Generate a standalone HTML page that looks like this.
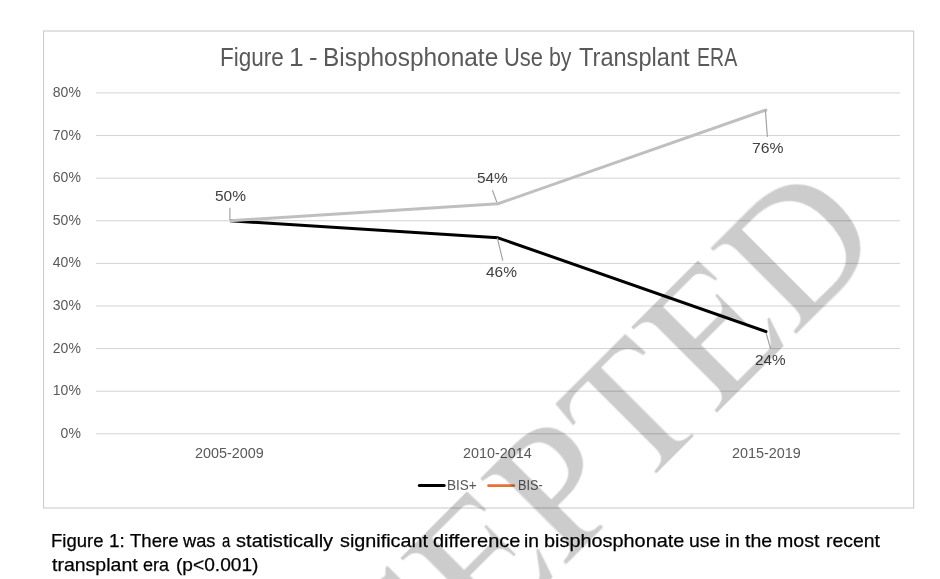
<!DOCTYPE html>
<html lang="en">
<head>
<meta charset="utf-8">
<title>Figure 1 - Bisphosphonate Use by Transplant ERA</title>
<style>
html,body{margin:0;padding:0;background:#fff}
body{width:940px;height:579px;position:relative;overflow:hidden;font-family:"Liberation Sans", sans-serif}
svg{position:absolute;left:0;top:0;display:block}
#txt span{position:absolute;white-space:pre;transform-origin:0 50%;font-family:"Liberation Sans", sans-serif}
#txt{will-change:transform}
#txt .cap{-webkit-text-stroke:0.25px #000}
#wm{pointer-events:none}
</style>
</head>
<body>
<svg id="chart" width="940" height="579" viewBox="0 0 940 579">
<rect x="43.6" y="31.0" width="870.1" height="477.0" fill="none" stroke="#c6c6c6" stroke-width="1"/>
<line x1="96.0" y1="433.80" x2="900.0" y2="433.80" stroke="#d3d3d3" stroke-width="1"/>
<line x1="96.0" y1="391.19" x2="900.0" y2="391.19" stroke="#d3d3d3" stroke-width="1"/>
<line x1="96.0" y1="348.59" x2="900.0" y2="348.59" stroke="#d3d3d3" stroke-width="1"/>
<line x1="96.0" y1="305.98" x2="900.0" y2="305.98" stroke="#d3d3d3" stroke-width="1"/>
<line x1="96.0" y1="263.38" x2="900.0" y2="263.38" stroke="#d3d3d3" stroke-width="1"/>
<line x1="96.0" y1="220.77" x2="900.0" y2="220.77" stroke="#d3d3d3" stroke-width="1"/>
<line x1="96.0" y1="178.16" x2="900.0" y2="178.16" stroke="#d3d3d3" stroke-width="1"/>
<line x1="96.0" y1="135.56" x2="900.0" y2="135.56" stroke="#d3d3d3" stroke-width="1"/>
<line x1="96.0" y1="92.95" x2="900.0" y2="92.95" stroke="#d3d3d3" stroke-width="1"/>
<polyline points="230.0,220.77 498.0,237.81 766.0,331.55" fill="none" stroke="#000" stroke-width="3" stroke-linecap="butt" stroke-linejoin="round"/>
<circle cx="766.0" cy="331.55" r="1.5" fill="#000"/>
<polyline points="230.0,220.77 498.0,203.73 766.0,109.99" fill="none" stroke="#bfbfbf" stroke-width="3" stroke-linecap="butt" stroke-linejoin="round"/>
<circle cx="766.0" cy="109.99" r="1.5" fill="#bfbfbf"/>
<line x1="229.9" y1="207.8" x2="229.9" y2="220.3" stroke="#9c9c9c" stroke-width="1.1"/>
<line x1="492.4" y1="190.2" x2="497.0" y2="202.6" stroke="#9c9c9c" stroke-width="1.1"/>
<line x1="497.3" y1="237.8" x2="502.8" y2="260.7" stroke="#9c9c9c" stroke-width="1.1"/>
<line x1="765.4" y1="110.5" x2="767.4" y2="136.9" stroke="#9c9c9c" stroke-width="1.1"/>
<line x1="766.1" y1="333.0" x2="770.4" y2="348.1" stroke="#9c9c9c" stroke-width="1.1"/>
<line x1="419.3" y1="485.6" x2="444.2" y2="485.6" stroke="#000" stroke-width="3" stroke-linecap="round"/>
<line x1="488.5" y1="485.6" x2="513.8" y2="485.6" stroke="#e97132" stroke-width="2.6" stroke-linecap="round"/>
</svg>
<div id="txt">
<span style="left:60.61px;top:424.80px;font-size:14px;line-height:16.8px;color:#595959">0%</span>
<span style="left:52.83px;top:382.19px;font-size:14px;line-height:16.8px;color:#595959">10%</span>
<span style="left:52.83px;top:339.59px;font-size:14px;line-height:16.8px;color:#595959">20%</span>
<span style="left:52.83px;top:296.98px;font-size:14px;line-height:16.8px;color:#595959">30%</span>
<span style="left:52.83px;top:254.37px;font-size:14px;line-height:16.8px;color:#595959">40%</span>
<span style="left:52.83px;top:211.77px;font-size:14px;line-height:16.8px;color:#595959">50%</span>
<span style="left:52.83px;top:169.16px;font-size:14px;line-height:16.8px;color:#595959">60%</span>
<span style="left:52.83px;top:126.56px;font-size:14px;line-height:16.8px;color:#595959">70%</span>
<span style="left:52.83px;top:83.95px;font-size:14px;line-height:16.8px;color:#595959">80%</span>
<span style="left:195.10px;top:445.00px;font-size:14px;line-height:16.8px;color:#595959;transform:scaleX(1.0288)">2005-2009</span>
<span style="left:463.30px;top:445.00px;font-size:14px;line-height:16.8px;color:#595959;transform:scaleX(1.0288)">2010-2014</span>
<span style="left:731.55px;top:445.00px;font-size:14px;line-height:16.8px;color:#595959;transform:scaleX(1.0288)">2015-2019</span>
<span style="left:214.50px;top:187.40px;font-size:15px;line-height:18.0px;color:#404040;transform:scaleX(1.0308)">50%</span>
<span style="left:476.85px;top:169.40px;font-size:15px;line-height:18.0px;color:#404040;transform:scaleX(1.0258)">54%</span>
<span style="left:486.35px;top:263.30px;font-size:15px;line-height:18.0px;color:#404040;transform:scaleX(1.0325)">46%</span>
<span style="left:751.80px;top:139.40px;font-size:15px;line-height:18.0px;color:#404040;transform:scaleX(1.0477)">76%</span>
<span style="left:754.60px;top:351.40px;font-size:15px;line-height:18.0px;color:#404040;transform:scaleX(1.0207)">24%</span>
<span style="left:447.46px;top:477.10px;font-size:14.5px;line-height:17.4px;color:#595959;transform:scaleX(0.9351)">BIS+</span>
<span style="left:517.73px;top:477.10px;font-size:14.5px;line-height:17.4px;color:#595959;transform:scaleX(0.8732)">BIS-</span>
<span style="left:220.30px;top:42.40px;font-size:25px;line-height:30.0px;color:#595959;transform:scaleX(0.9006)">Figure</span>
<span style="left:288.85px;top:42.40px;font-size:25px;line-height:30.0px;color:#595959;transform:scaleX(1.0500)">1</span>
<span style="left:309.47px;top:42.40px;font-size:25px;line-height:30.0px;color:#595959;transform:scaleX(1.0286)">-</span>
<span style="left:322.95px;top:42.40px;font-size:25px;line-height:30.0px;color:#595959;transform:scaleX(0.9773)">Bisphosphonate</span>
<span style="left:503.62px;top:42.40px;font-size:25px;line-height:30.0px;color:#595959;transform:scaleX(0.8765)">Use</span>
<span style="left:549.05px;top:42.40px;font-size:25px;line-height:30.0px;color:#595959;transform:scaleX(0.8532)">by</span>
<span style="left:579.20px;top:42.40px;font-size:25px;line-height:30.0px;color:#595959;transform:scaleX(0.9434)">Transplant</span>
<span style="left:696.84px;top:42.40px;font-size:25px;line-height:30.0px;color:#595959;transform:scaleX(0.7822)">ERA</span>
<span class="cap" style="left:51.43px;top:529.60px;font-size:19px;line-height:22.8px;color:#000;transform:scaleX(0.9735)">Figure</span>
<span class="cap" style="left:109.10px;top:529.60px;font-size:19px;line-height:22.8px;color:#000;transform:scaleX(1.0024)">1:</span>
<span class="cap" style="left:129.60px;top:529.60px;font-size:19px;line-height:22.8px;color:#000;transform:scaleX(0.9762)">There</span>
<span class="cap" style="left:183.16px;top:529.60px;font-size:19px;line-height:22.8px;color:#000;transform:scaleX(0.9595)">was</span>
<span class="cap" style="left:221.50px;top:529.60px;font-size:19px;line-height:22.8px;color:#000;transform:scaleX(0.7818)">a</span>
<span class="cap" style="left:235.50px;top:529.60px;font-size:19px;line-height:22.8px;color:#000;transform:scaleX(1.0579)">statistically</span>
<span class="cap" style="left:339.90px;top:529.60px;font-size:19px;line-height:22.8px;color:#000;transform:scaleX(1.0421)">significant</span>
<span class="cap" style="left:432.60px;top:529.60px;font-size:19px;line-height:22.8px;color:#000;transform:scaleX(1.0517)">difference</span>
<span class="cap" style="left:524.09px;top:529.60px;font-size:19px;line-height:22.8px;color:#000;transform:scaleX(1.0135)">in</span>
<span class="cap" style="left:543.85px;top:529.60px;font-size:19px;line-height:22.8px;color:#000;transform:scaleX(1.0460)">bisphosphonate</span>
<span class="cap" style="left:688.98px;top:529.60px;font-size:19px;line-height:22.8px;color:#000;transform:scaleX(1.0218)">use</span>
<span class="cap" style="left:725.09px;top:529.60px;font-size:19px;line-height:22.8px;color:#000;transform:scaleX(1.0135)">in</span>
<span class="cap" style="left:745.20px;top:529.60px;font-size:19px;line-height:22.8px;color:#000;transform:scaleX(1.0253)">the</span>
<span class="cap" style="left:777.07px;top:529.60px;font-size:19px;line-height:22.8px;color:#000;transform:scaleX(1.0295)">most</span>
<span class="cap" style="left:825.58px;top:529.60px;font-size:19px;line-height:22.8px;color:#000;transform:scaleX(1.0204)">recent</span>
<span class="cap" style="left:52.40px;top:553.60px;font-size:19px;line-height:22.8px;color:#000;transform:scaleX(1.0266)">transplant</span>
<span class="cap" style="left:143.00px;top:553.60px;font-size:19px;line-height:22.8px;color:#000;transform:scaleX(0.9500)">era</span>
<span class="cap" style="left:175.79px;top:553.60px;font-size:19px;line-height:22.8px;color:#000;transform:scaleX(1.0070)">(p&lt;0.001)</span>
</div>
<svg id="wm" width="940" height="579" viewBox="0 0 940 579">
<g opacity="0.2" fill="#000" transform="translate(551.95 577.65) rotate(-45.0) scale(0.089697 -0.089697) translate(-5291.0 0)">
<path transform="translate(0 0)" d="M461 53V0H20V53L172 80L629 1352H819L1294 80L1464 53V0H897V53L1077 80L944 467H416L281 80ZM676 1208 446 557H913Z" stroke="#000" stroke-width="11.15"/>
<path transform="translate(1479 0)" d="M774 -20Q448 -20 266 157.5Q84 335 84 655Q84 1001 259 1178.5Q434 1356 778 1356Q975 1356 1150 1322L1214 1384L1236 1384L1233 1012H1167L1137 1186Q1067 1229 974.5 1252.5Q882 1276 786 1276Q529 1276 411 1125Q293 974 293 657Q293 365 416.5 211Q540 57 776 57Q890 57 991 84.5Q1092 112 1151 158L1188 358H1253L1247 43Q1027 -20 774 -20Z" stroke="#000" stroke-width="11.15"/>
<path transform="translate(2845 0)" d="M774 -20Q448 -20 266 157.5Q84 335 84 655Q84 1001 259 1178.5Q434 1356 778 1356Q975 1356 1150 1322L1214 1384L1236 1384L1233 1012H1167L1137 1186Q1067 1229 974.5 1252.5Q882 1276 786 1276Q529 1276 411 1125Q293 974 293 657Q293 365 416.5 211Q540 57 776 57Q890 57 991 84.5Q1092 112 1151 158L1188 358H1253L1247 43Q1027 -20 774 -20Z" stroke="#000" stroke-width="11.15"/>
<path transform="translate(4211 0)" d="M40 0L40 36L120 46Q238 62 243 190L243 1160Q238 1288 120 1304L40 1314L40 1350L1090 1350L1098 1054L1069 1054Q1040 1255 930 1262L449 1262L449 753L842 753Q940 760 949 937L978 937L978 468L949 468Q940 656 842 663L449 663L449 86L940 86Q985 88 1020 135L1175 340L1205 340L1090 0Z"/>
<path transform="translate(5462 0)" d="M868,944Q868,1109 791,1180Q714,1251 532,1251H434V616H538Q707,616 787.5,693Q868,770 868,944ZM434,526L434,200Q438,62 530,44L625,32L625,0L50,0L50,32L130,44Q237,62 241,200L241,1145Q237,1282 130,1298L50,1310L50,1341L575,1341Q1067,1341 1067,946Q1067,740 942.5,633Q818,526 585,526Z" stroke="#000" stroke-width="11.15"/>
<path transform="translate(6601 0)" d="M334 0L334 30L420 42Q520 60 525 180L525 1267L324 1267Q130 1250 101 1035L58 1035L88 1343L1188 1343L1205 1033L1162 1033Q1133 1250 939 1267L733 1267L733 180Q738 60 838 42L925 30L925 0Z"/>
<path transform="translate(7852 0)" d="M40 0L40 36L120 46Q238 62 243 190L243 1160Q238 1288 120 1304L40 1314L40 1350L1090 1350L1098 1054L1069 1054Q1040 1255 930 1262L449 1262L449 753L842 753Q940 760 949 937L978 937L978 468L949 468Q940 656 842 663L449 663L449 86L940 86Q985 88 1020 135L1175 340L1205 340L1090 0Z"/>
<path transform="translate(9103 0)" d="M1175.8,680Q1175.8,961 1026.7,1106Q877.6,1251 601.1,1251H424V94Q542.1,86 704.4,86Q946.5,86 1061.1,231Q1175.8,376 1175.8,680ZM664.1,1341Q1029.2,1341 1205.3,1175.5Q1381.4,1010 1381.4,678Q1381.4,342 1211.7,169Q1042,-4 704.4,-4L231,0L40,0L40,32L130,44Q227,62 231,200L231,1145Q227,1282 130,1298L40,1310L40,1341Z" stroke="#000" stroke-width="11.15"/>
</g>
</svg>
</body>
</html>
